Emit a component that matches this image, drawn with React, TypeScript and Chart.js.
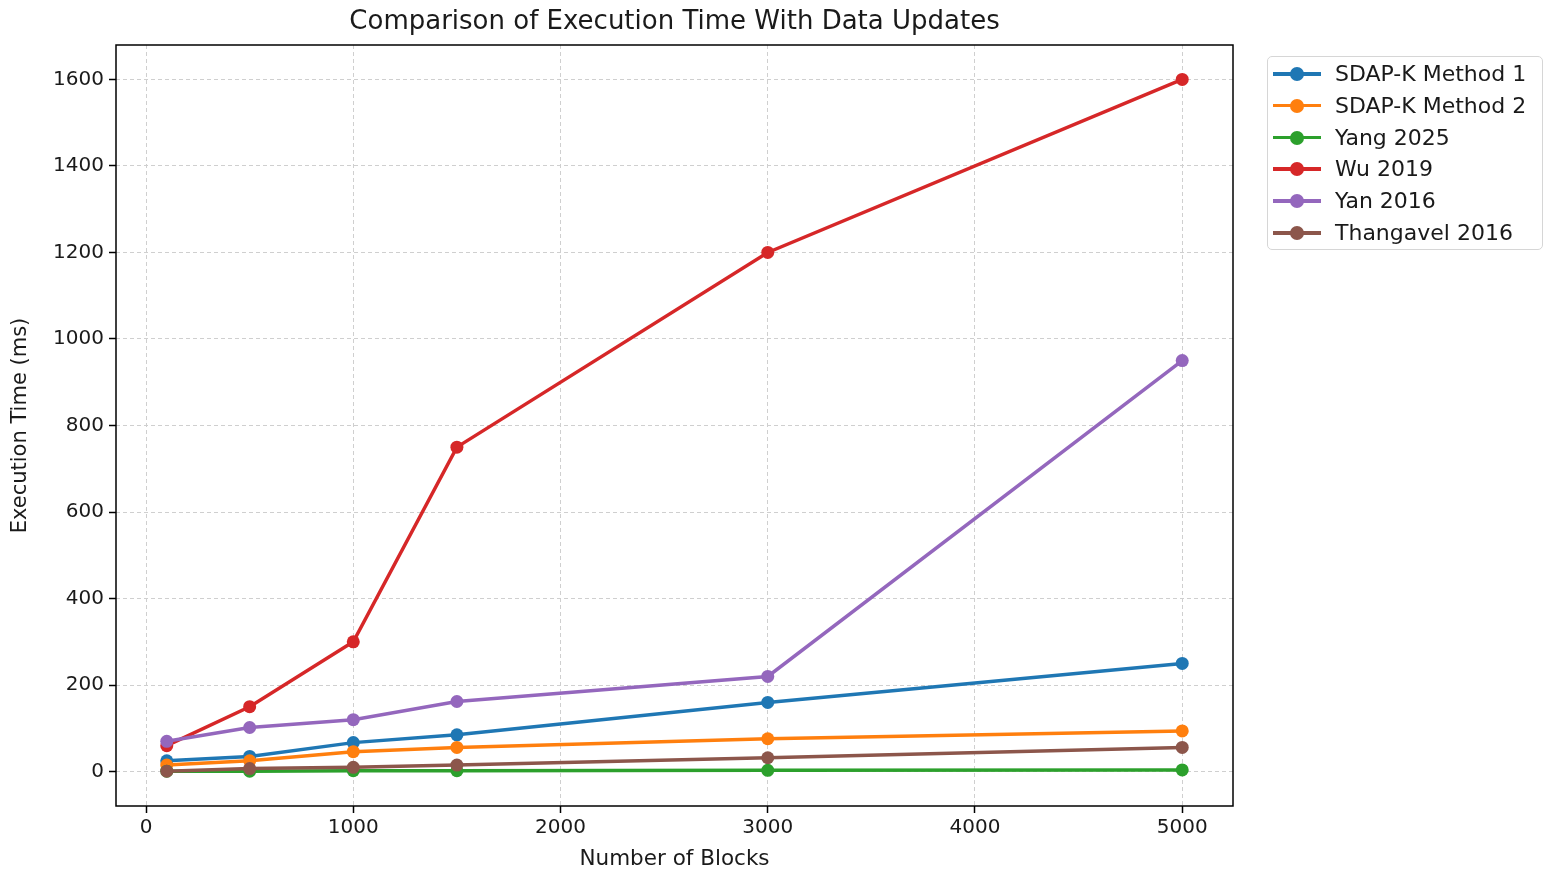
import { useEffect, useRef } from "react";
import { Chart, registerables } from "chart.js";

Chart.register(...registerables);

const blocks = [100, 500, 1000, 1500, 3000, 5000];
const sdapk1 = [25, 35, 67, 85, 160, 250];
const sdapk2 = [15, 25, 46, 56, 76, 94];
const yang2025 = [1, 1, 2, 2, 3, 4];
const wu2019 = [60, 150, 300, 750, 1200, 1600];
const yan2016 = [70, 102, 120, 162, 220, 950];
const thangavel2016 = [1, 7, 10, 15, 32, 56];

const seriesNames = ["SDAP-K Method 1", "SDAP-K Method 2", "Yang 2025", "Wu 2019", "Yan 2016", "Thangavel 2016"];
const seriesValues = [sdapk1, sdapk2, yang2025, wu2019, yan2016, thangavel2016];
const seriesColors = ["#1f77b4", "#ff7f0e", "#2ca02c", "#d62728", "#9467bd", "#8c564b"];

const xTicks = [0, 1000, 2000, 3000, 4000, 5000];
const yTicks = [0, 200, 400, 600, 800, 1000, 1200, 1400, 1600];

const FONT = "'DejaVu Sans', sans-serif";
const TEXT = "#1a1a1a";

// frame + title drawn around the plot area
const framePlugin = {
  id: "frame",
  afterDraw(chart: Chart) {
    const { ctx, chartArea } = chart;
    ctx.save();
    ctx.strokeStyle = "#000";
    ctx.lineWidth = 1.5;
    ctx.strokeRect(chartArea.left, chartArea.top, chartArea.right - chartArea.left, chartArea.bottom - chartArea.top);
    ctx.fillStyle = TEXT;
    ctx.font = `26px ${FONT}`;
    ctx.textAlign = "center";
    ctx.textBaseline = "middle";
    ctx.fillText("Comparison of Execution Time With Data Updates", (chartArea.left + chartArea.right) / 2, 22);
    ctx.restore();
  },
};

const gridOpts = {
  color: "#cfcfcf",
  lineWidth: 1,
  tickColor: "#000",
  tickWidth: 1.5,
  tickBorderDash: [],
  tickLength: 7,
};

export default function App() {
  const canvasRef = useRef<HTMLCanvasElement>(null);

  useEffect(() => {
    if (!canvasRef.current) return;
    const n = seriesNames.length;
    const chart = new Chart(canvasRef.current, {
      type: "line",
      data: {
        datasets: seriesNames.map((name, i) => ({
          label: name,
          data: blocks.map((b, j) => ({ x: b, y: seriesValues[i][j] })),
          borderColor: seriesColors[i],
          backgroundColor: seriesColors[i],
          pointBackgroundColor: seriesColors[i],
          pointBorderColor: seriesColors[i],
          borderWidth: 3.5,
          pointRadius: 6.5,
          pointBorderWidth: 0,
          tension: 0,
          order: n - i,
        })),
      },
      options: {
        responsive: false,
        animation: false,
        devicePixelRatio: 1,
        layout: { padding: { left: 0, top: 45, right: 323, bottom: 0 } },
        plugins: {
          legend: { display: false },
          tooltip: { enabled: false },
        },
        scales: {
          x: {
            type: "linear",
            min: -145,
            max: 5245,
            afterFit: (scale: any) => {
              scale.height = 71;
            },
            afterBuildTicks: (scale: any) => {
              scale.ticks = xTicks.map((v) => ({ value: v }));
            },
            border: { display: false, dash: [4, 3] },
            grid: gridOpts,
            ticks: {
              color: TEXT,
              font: { family: FONT, size: 20 },
              padding: 3,
              maxRotation: 0,
              callback: (v: any) => String(v),
            },
            title: {
              display: true,
              text: "Number of Blocks",
              color: TEXT,
              font: { family: FONT, size: 21.5 },
              padding: { top: 0, bottom: 5 },
            },
          },
          y: {
            type: "linear",
            min: -79.5,
            max: 1679.5,
            afterFit: (scale: any) => {
              scale.width = 116;
            },
            afterBuildTicks: (scale: any) => {
              scale.ticks = yTicks.map((v) => ({ value: v }));
            },
            border: { display: false, dash: [4, 3] },
            grid: gridOpts,
            ticks: {
              color: TEXT,
              font: { family: FONT, size: 20 },
              padding: 5,
              callback: (v: any) => String(v),
            },
            title: {
              display: true,
              text: "Execution Time (ms)",
              color: TEXT,
              font: { family: FONT, size: 21 },
              padding: { top: 8, bottom: 0 },
            },
          },
        },
      },
      plugins: [framePlugin],
    });
    return () => chart.destroy();
  }, []);

  return (
    <div style={{ position: "absolute", left: 0, top: 0, width: 1556, height: 877, background: "#fff" }}>
      <canvas ref={canvasRef} width={1556} height={877} />
      <div
        style={{
          position: "absolute",
          left: 1267,
          top: 56,
          width: 276,
          height: 194,
          border: "1.5px solid #d6d6d6",
          borderRadius: 5,
          boxSizing: "border-box",
          fontFamily: FONT,
          fontSize: 22,
          color: TEXT,
        }}
      >
        {seriesNames.map((name, i) => (
          <div key={name} style={{ position: "absolute", left: 0, top: 4 + i * 31.8, height: 26, width: "100%" }}>
            <div style={{ position: "absolute", left: 5, top: 11, width: 48, height: 3.5, background: seriesColors[i] }} />
            <div
              style={{
                position: "absolute",
                left: 22,
                top: 6,
                width: 14,
                height: 14,
                borderRadius: 7,
                background: seriesColors[i],
              }}
            />
            <div style={{ position: "absolute", left: 67, top: 0, lineHeight: "26px", whiteSpace: "nowrap" }}>{name}</div>
          </div>
        ))}
      </div>
    </div>
  );
}
